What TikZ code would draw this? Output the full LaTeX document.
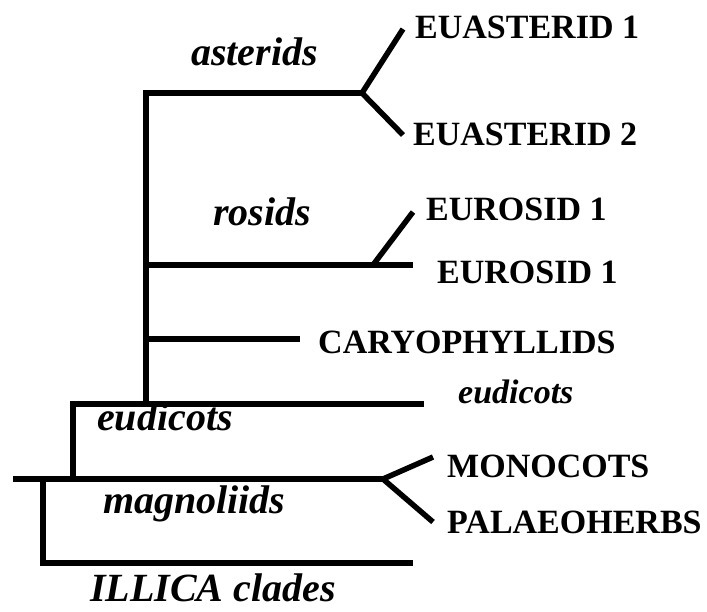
\documentclass[tikz,border=0pt]{standalone}
\usepackage{fontspec}
\setmainfont{Liberation Serif}
\definecolor{apgInk}{HTML}{000000}
\tikzset{
  apg branch/.style={draw=apgInk, line width=5.5pt, line join=miter},
  apg taxon/.style={font=\bfseries\fontsize{34}{34}\selectfont, text=apgInk, inner sep=0pt, anchor=base west},
  apg clade/.style={font=\bfseries\itshape\fontsize{40}{40}\selectfont, text=apgInk, inner sep=0pt, anchor=base west},
  apg small clade/.style={apg clade, font=\bfseries\itshape\fontsize{34}{34}\selectfont},
}

\begin{document}
\begin{tikzpicture}[x=1pt,y=-1pt]
  \useasboundingbox (0,0) rectangle (707,611);

  % Junctions and branch tips (pixel grid, y downwards)
  \coordinate (eudBase)   at (146,404);
  \coordinate (astCorner) at (146,93);
  \coordinate (astFork)   at (362,93);
  \coordinate (astTipA)   at (403,29);
  \coordinate (astTipB)   at (403,135);
  \coordinate (rosStem)   at (146,265);
  \coordinate (rosFork)   at (373,265);
  \coordinate (rosTipA)   at (413,212);
  \coordinate (rosTipB)   at (413,265);
  \coordinate (caryStem)  at (146,339);
  \coordinate (caryTip)   at (300,339);
  \coordinate (eudCorner) at (73,404);
  \coordinate (eudStem)   at (73,479);
  \coordinate (eudTip)    at (424,404);
  \coordinate (magRoot)   at (13,479);
  \coordinate (magFork)   at (383,479);
  \coordinate (magTipA)   at (433,457);
  \coordinate (magTipB)   at (433,522);
  \coordinate (illStem)   at (43,479);
  \coordinate (illCorner) at (43,563);
  \coordinate (illTip)    at (413,563);

  % Taxa
  \node[apg taxon] (euast1) at (415,38)  {EUASTERID 1};
  \node[apg taxon] (euast2) at (413,145) {EUASTERID 2};
  \node[apg taxon] (eurosA) at (426,220) {EUROSID 1};
  \node[apg taxon] (eurosB) at (437,283) {EUROSID 1};
  \node[apg taxon] (caryo)  at (318,353) {CARYOPHYLLIDS};
  \node[apg taxon] (monoc)  at (447,477) {MONOCOTS};
  \node[apg taxon] (palae)  at (447,533) {PALAEOHERBS};

  % Clade names
  \node[apg clade] (asterids)   at (191,65)  {asterids};
  \node[apg clade] (rosids)     at (213,225) {rosids};
  \node[apg clade] (eudicotsL)  at (97,430)  {eudicots};
  \node[apg small clade] (eudicotsR) at (458,403) {eudicots};
  \node[apg clade] (magnoliids) at (103,513) {magnoliids};
  \node[apg clade] (illica)     at (90,601)  {ILLICA clades};

  % Tree
  \draw[apg branch] (eudBase) -- (astCorner) -- (astFork);
  \draw[apg branch] (astTipA) -- (astFork) -- (astTipB);
  \draw[apg branch] (rosStem) -- (rosTipB);
  \draw[apg branch] (rosFork) -- (rosTipA);
  \draw[apg branch] (caryStem) -- (caryTip);
  \draw[apg branch] (eudStem) -- (eudCorner) -- (eudTip);
  \draw[apg branch] (magRoot) -- (magFork);
  \draw[apg branch] (magTipA) -- (magFork) -- (magTipB);
  \draw[apg branch] (illStem) -- (illCorner) -- (illTip);
\end{tikzpicture}
\end{document}
